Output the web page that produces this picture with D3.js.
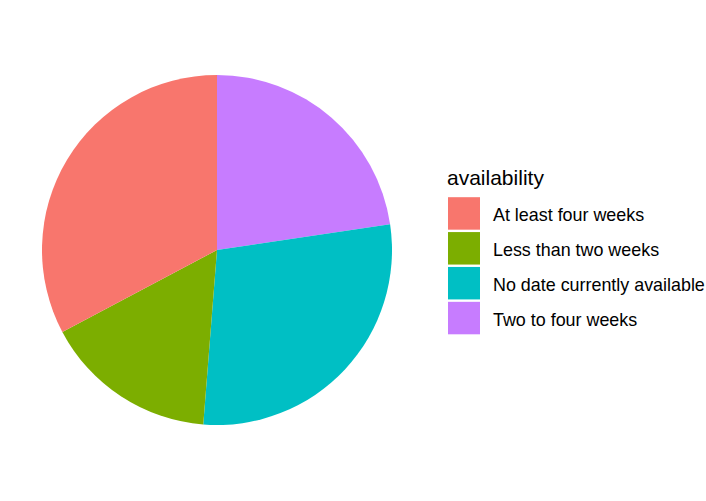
<!DOCTYPE html>
<html>
<head>
<meta charset="utf-8">
<script src="https://cdn.jsdelivr.net/npm/d3@7"></script>
<style>
  body { margin: 0; background: #fff; }
  svg { font-family: "Liberation Sans", Arial, sans-serif; }
</style>
</head>
<body>
<svg id="chart" width="706" height="501"></svg>
<script>
const categories = ['At least four weeks', 'Less than two weeks', 'No date currently available', 'Two to four weeks'];
const shares = [32.75, 16.0, 28.6, 22.65];
const colors = ['#F8766D', '#7CAE00', '#00BFC4', '#C77CFF'];
const legendTitle = 'availability';

const data = categories.map((c, i) => ({ cat: c, value: shares[i], color: colors[i] }));

const svg = d3.select('#chart');
svg.append('rect').attr('width', 706).attr('height', 501).attr('fill', '#fff');

const cx = 217, cy = 250, r = 175;

// ggplot stacks first level on top, so it ends at 12 o'clock going counter-clockwise
const pie = d3.pie().sort(null).value(d => d.value);
const arcs = pie(data.slice().reverse());
const arc = d3.arc().innerRadius(0).outerRadius(r);

svg.append('g')
  .attr('transform', `translate(${cx},${cy})`)
  .selectAll('path').data(arcs).join('path')
  .attr('d', arc)
  .attr('fill', d => d.data.color);

// legend
const legend = svg.append('g').attr('transform', 'translate(447,0)');
legend.append('text')
  .attr('x', 0).attr('y', 185)
  .attr('font-size', 21)
  .attr('fill', '#000')
  .text(legendTitle);

const keyY = d3.scaleBand().domain(categories).range([196, 335.5]);

legend.selectAll('.key').data(data).join('rect')
  .attr('class', 'key')
  .attr('x', 1)
  .attr('y', d => keyY(d.cat) + 1.2)
  .attr('width', 32)
  .attr('height', keyY.bandwidth() - 2.4)
  .attr('fill', d => d.color);

legend.selectAll('.lab').data(data).join('text')
  .attr('class', 'lab')
  .attr('x', 46)
  .attr('y', d => keyY(d.cat) + keyY.bandwidth() / 2 + 7.5)
  .attr('font-size', 17.9)
  .attr('fill', '#000')
  .text(d => d.cat);
</script>
</body>
</html>
